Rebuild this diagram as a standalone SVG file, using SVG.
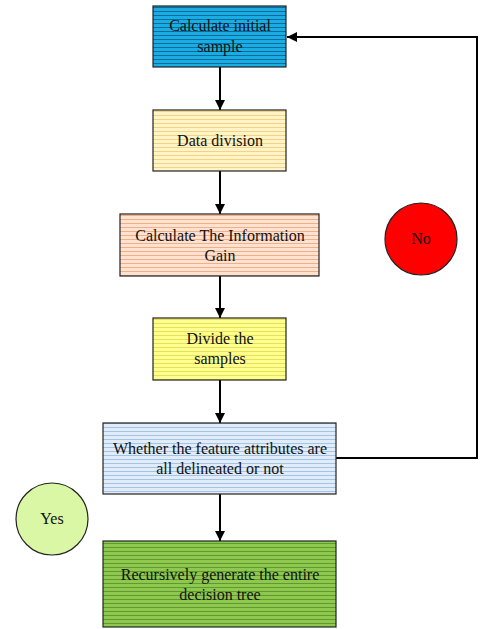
<svg xmlns="http://www.w3.org/2000/svg" width="480" height="629" viewBox="0 0 480 629" font-family="Liberation Serif, DejaVu Serif, serif">
<style>
.box{stroke:#222;stroke-width:1.2}
.t{font-family:Liberation Serif, DejaVu Serif, serif;font-size:16px;fill:#111;text-anchor:middle}
.c{fill:none;stroke:#000;stroke-width:2}
</style>
<defs>
<marker id="ah" viewBox="0 0 10 10" refX="10" refY="5" markerWidth="10" markerHeight="10" markerUnits="userSpaceOnUse" orient="auto">
<path d="M0,0 L10,5 L0,10 Z" fill="#000"/>
</marker>
<pattern id="p1" width="8" height="4" patternUnits="userSpaceOnUse"><rect width="8" height="4" fill="#19ade6"/><rect y="3" width="8" height="1" fill="#0b6a96"/></pattern>
<pattern id="p2" width="8" height="4" patternUnits="userSpaceOnUse"><rect width="8" height="4" fill="#fff3c8"/><rect y="3" width="8" height="1" fill="#f4d484"/></pattern>
<pattern id="p3" width="8" height="4" patternUnits="userSpaceOnUse"><rect width="8" height="4" fill="#fde2d2"/><rect y="3" width="8" height="1" fill="#f2ae84"/></pattern>
<pattern id="p4" width="8" height="4" patternUnits="userSpaceOnUse"><rect width="8" height="4" fill="#ffff90"/><rect y="3" width="8" height="1" fill="#e6e05a"/></pattern>
<pattern id="p5" width="8" height="4" patternUnits="userSpaceOnUse"><rect width="8" height="4" fill="#e2ecf8"/><rect y="3" width="8" height="1" fill="#a2c4e6"/></pattern>
<pattern id="p6" width="8" height="4" patternUnits="userSpaceOnUse"><rect width="8" height="4" fill="#8ec84e"/><rect y="3" width="8" height="1" fill="#5e9a2e"/></pattern>
</defs>
<g id="connectors">
<line class="c" x1="220" y1="67" x2="220" y2="110" marker-end="url(#ah)"/>
<line class="c" x1="220" y1="171" x2="220" y2="214" marker-end="url(#ah)"/>
<line class="c" x1="220" y1="276" x2="220" y2="318" marker-end="url(#ah)"/>
<line class="c" x1="220" y1="380" x2="220" y2="423" marker-end="url(#ah)"/>
<line class="c" x1="220" y1="494" x2="220" y2="541" marker-end="url(#ah)"/>
<polyline class="c" points="336,458 477,458 477,37 287,37" marker-end="url(#ah)"/>
</g>
<g id="n1"><rect class="box" x="153" y="6" width="133" height="61" fill="url(#p1)"/><text class="t" x="220" y="31">Calculate initial</text><text class="t" x="220" y="52">sample</text></g>
<g id="n2"><rect class="box" x="153" y="110" width="133" height="61" fill="url(#p2)"/><text class="t" x="220" y="146">Data division</text></g>
<g id="n3"><rect class="box" x="120" y="214" width="199" height="62" fill="url(#p3)"/><text class="t" x="220" y="241">Calculate The Information</text><text class="t" x="220" y="261">Gain</text></g>
<g id="n4"><rect class="box" x="153" y="318" width="133" height="62" fill="url(#p4)"/><text class="t" x="220" y="344">Divide the</text><text class="t" x="220" y="364">samples</text></g>
<g id="n5"><rect class="box" x="103" y="423" width="233" height="71" fill="url(#p5)"/><text class="t" x="220" y="454">Whether the feature attributes are</text><text class="t" x="220" y="474">all delineated or not</text></g>
<g id="n6"><rect class="box" x="103" y="541" width="233" height="86" fill="url(#p6)"/><text class="t" x="220" y="580">Recursively generate the entire</text><text class="t" x="220" y="600">decision tree</text></g>
<g id="yes"><circle cx="52" cy="519" r="36" fill="#d9f7a4" stroke="#222" stroke-width="1.2"/><text class="t" x="52" y="524">Yes</text></g>
<g id="no"><circle cx="421" cy="239" r="36" fill="#ff0000" stroke="#222" stroke-width="1.2"/><text class="t" x="421" y="244">No</text></g>
</svg>
